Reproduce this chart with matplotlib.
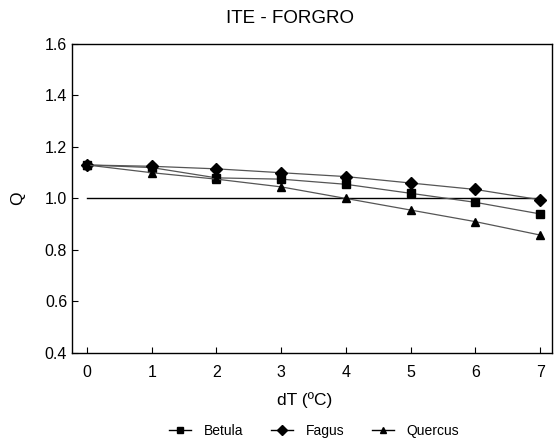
import matplotlib
matplotlib.use("Agg")
import matplotlib.pyplot as plt
from matplotlib.lines import Line2D

plt.rcParams['font.family'] = ['Liberation Sans', 'DejaVu Sans']

dT = [0, 1, 2, 3, 4, 5, 6, 7]
betula = [1.13, 1.12, 1.08, 1.075, 1.055, 1.02, 0.985, 0.94]
fagus = [1.13, 1.125, 1.115, 1.10, 1.085, 1.06, 1.035, 0.995]
quercus = [1.13, 1.10, 1.075, 1.045, 1.0, 0.955, 0.91, 0.858]
ref_x = [0, 7]
ref_y = [1.0, 1.0]
yticks = [0.4, 0.6, 0.8, 1.0, 1.2, 1.4, 1.6]
xticks = [0, 1, 2, 3, 4, 5, 6, 7]

fig = plt.figure(figsize=(5.59, 4.44), dpi=100)
ax = fig.add_axes([0.129, 0.205, 0.858, 0.696])

ax.plot(ref_x, ref_y, color='black', lw=1.0)
ax.plot(dT, betula, color='#555555', lw=0.9, marker='s', ms=6, mfc='black', mec='black')
ax.plot(dT, fagus, color='#555555', lw=0.9, marker='D', ms=6, mfc='black', mec='black')
ax.plot(dT, quercus, color='#555555', lw=0.9, marker='^', ms=6, mfc='black', mec='black')

ax.set_xlim(-0.23, 7.18)
ax.set_ylim(0.4, 1.6)
ax.set_xticks(xticks)
ax.set_yticks(yticks)
ax.set_yticklabels([f"{v:.1f}" for v in yticks])
ax.tick_params(direction='in', length=4, labelsize=11.5, width=0.8)
ax.tick_params(axis='x', pad=9)
for s in ax.spines.values():
    s.set_linewidth(1.0)

ax.set_title('ITE - FORGRO', fontsize=13.5, pad=15, x=0.455)
ax.set_xlabel('dT (ºC)', fontsize=12.5, labelpad=8)
ax.xaxis.set_label_coords(0.485, -0.125)
ax.set_ylabel('Q', fontsize=12.5, rotation=90, labelpad=14)

handles = [
    Line2D([], [], color='black', lw=1, marker='s', ms=5, mfc='black'),
    Line2D([], [], color='black', lw=1, marker='D', ms=5, mfc='black'),
    Line2D([], [], color='black', lw=1, marker='^', ms=5, mfc='black'),
]
fig.legend(handles, ['Betula', 'Fagus', 'Quercus'], loc='center',
           bbox_to_anchor=(0.562, 0.03), ncol=3, frameon=False, fontsize=10,
           handlelength=1.6, columnspacing=2.0, handletextpad=0.9)

fig.savefig('out.png', dpi=100)
